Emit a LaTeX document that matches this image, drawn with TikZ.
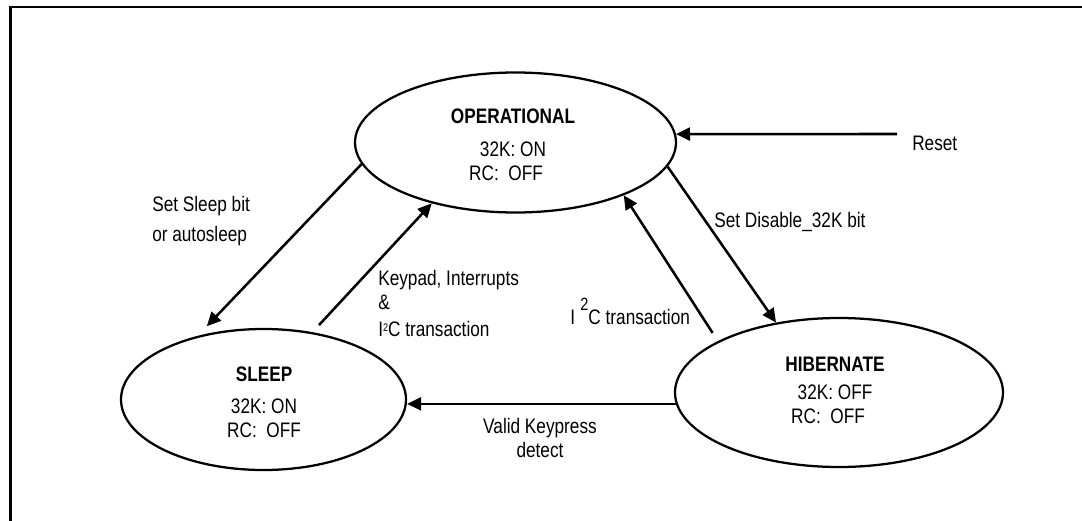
\documentclass[tikz,border=0pt]{standalone}
\usepackage{fontspec}
\setmainfont{Liberation Sans}[FakeStretch=0.82]
\usetikzlibrary{arrows.meta,shapes.geometric}
\begin{document}
\begin{tikzpicture}[x=0.75pt,y=-0.75pt,
  state/.style={draw,ellipse,line width=1.7pt,inner sep=0pt},
  lbl/.style={font=\fontsize{15.75pt}{18pt}\selectfont,inner sep=0pt},
  tr/.style={line width=1.9pt,-{Triangle[length=10.5pt,width=9.75pt]}}]
\useasboundingbox (0,0) rectangle (1082,521);
% frame
\draw[line width=1.7pt] (10.5,521) -- (10.5,7.2) -- (1082,7.2);
% states
\node[state,minimum width=240.75pt,minimum height=105pt] (op) at (515.5,142.5) {};
\node[state,minimum width=213.75pt,minimum height=105.75pt] (sl) at (263.5,399.5) {};
\node[state,minimum width=246pt,minimum height=111.75pt] (hb) at (839,392.5) {};
% state texts
\node[lbl,anchor=north,align=center] (opt) at (513,108.3)
  {\bfseries OPERATIONAL\\[7pt]32K: ON\hspace*{10.5pt}\\RC:\ \ OFF\hspace*{10.5pt}};
\node[lbl,anchor=north,align=center] (slt) at (264,366.7)
  {\bfseries SLEEP\\[6.2pt]32K: ON\\RC:\ \ OFF};
\node[lbl,anchor=north,align=center] (hbt) at (835,356.7)
  {\bfseries HIBERNATE\\[3.2pt]32K: OFF\hspace*{10.5pt}\\RC:\ \ OFF\hspace*{10.5pt}};
% transitions
\coordinate (rs) at (897,134);
\draw[tr] (rs) -- (op.3);
\draw[tr,shorten >=10pt] (op.188) -- (sl.136);
\draw[tr,shorten <=7.2pt] (sl.54) -- (op.216);
\draw[tr] (op.351) -- (hb.132);
\draw[tr,shorten <=7.3pt] (hb.157) -- (op.334);
\draw[tr] (hb.184) -- (hb.184 -| sl.east);
% labels
\node[lbl,anchor=base west] (lreset) at (912,150) {Reset};
\node[lbl,anchor=north west,align=left] (lsleep) at (152,196.5)
  {Set Sleep bit\\[4.5pt]or autosleep};
\node[lbl,anchor=north west,align=left] (lkey) at (378,270)
  {Keypad, Interrupts\\\&\\[2pt]I\raisebox{3.75pt}{\fontsize{8.25pt}{8.25pt}\selectfont 2}C transaction};
\node[lbl,anchor=base west] (ldis) at (714,227) {Set Disable\_32K bit};
\node[lbl,anchor=base west] (li2c) at (570,324.3)
  {I\hspace{4pt}\raisebox{10.2pt}{\fontsize{13.3pt}{13.3pt}\selectfont 2}C transaction};
\node[lbl,anchor=north,align=center] (lvalid) at (540,417.7)
  {Valid Keypress\\detect};
\end{tikzpicture}
\end{document}
